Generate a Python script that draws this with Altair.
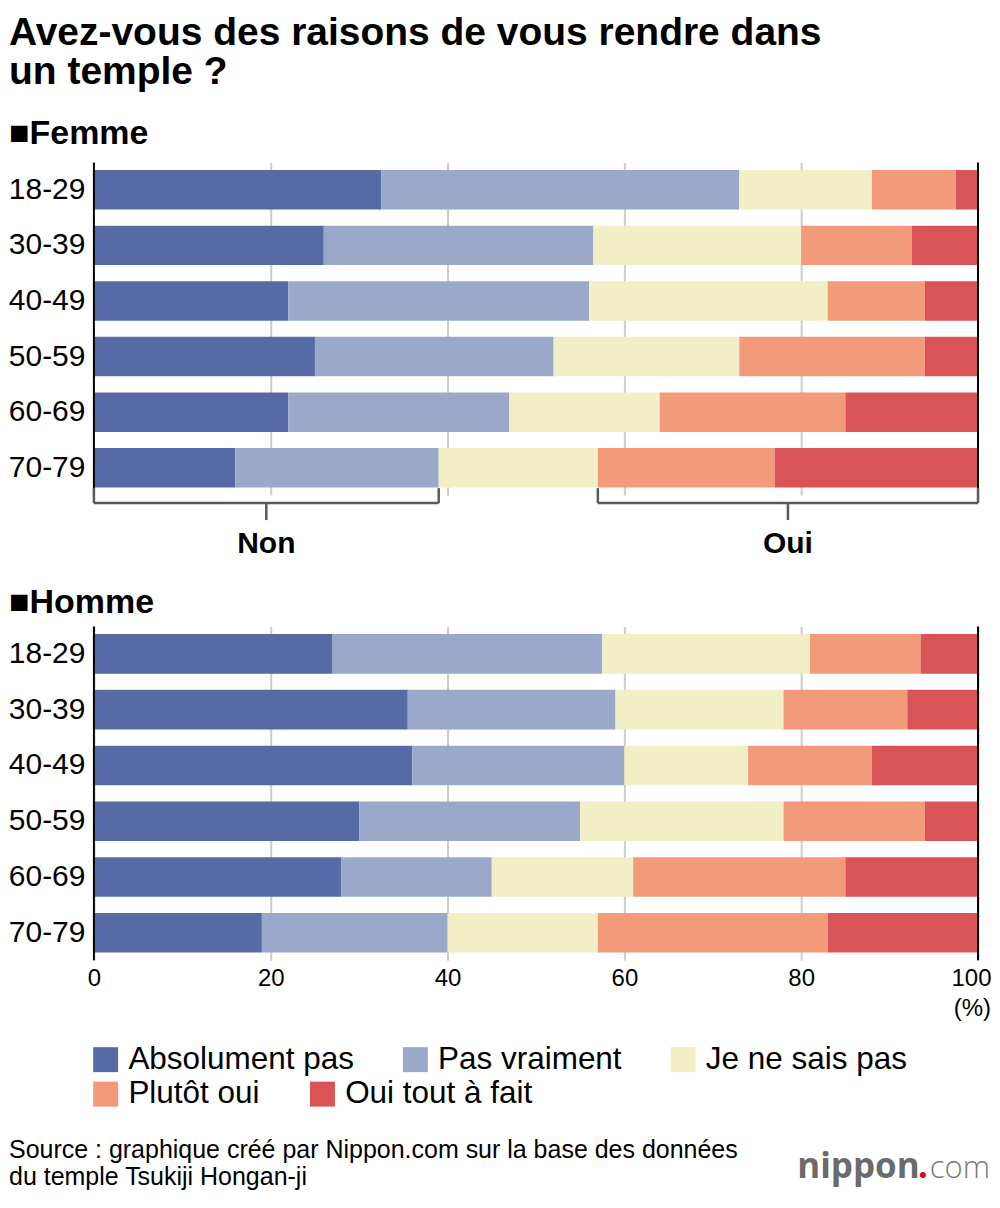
import altair as alt
import pandas as pd

FONT = "Liberation Sans"

ages = ["18-29", "30-39", "40-49", "50-59", "60-69", "70-79"]
answers = ["Absolument pas", "Pas vraiment", "Je ne sais pas", "Plutôt oui", "Oui tout à fait"]
colors = ["#566ba6", "#9aa8ca", "#f2efc6", "#f29a7a", "#d95456"]

# Femme (%)
femme_absolument_pas = [32.5, 26.0, 22.0, 25.0, 22.0, 16.0]
femme_pas_vraiment = [40.5, 30.5, 34.0, 27.0, 25.0, 23.0]
femme_ne_sais_pas = [15.0, 23.5, 27.0, 21.0, 17.0, 18.0]
femme_plutot_oui = [9.5, 12.5, 11.0, 21.0, 21.0, 20.0]
femme_tout_a_fait = [2.5, 7.5, 6.0, 6.0, 15.0, 23.0]

# Homme (%)
homme_absolument_pas = [27.0, 35.5, 36.0, 30.0, 28.0, 19.0]
homme_pas_vraiment = [30.5, 23.5, 24.0, 25.0, 17.0, 21.0]
homme_ne_sais_pas = [23.5, 19.0, 14.0, 23.0, 16.0, 17.0]
homme_plutot_oui = [12.5, 14.0, 14.0, 16.0, 24.0, 26.0]
homme_tout_a_fait = [6.5, 8.0, 12.0, 6.0, 15.0, 17.0]

x_ticks = [0, 20, 40, 60, 80, 100]
grid_ticks = [20, 40, 60, 80]
edges = [0, 100]
bracket_labels = ["Non", "Oui"]

title_lines = ["Avez-vous des raisons de vous rendre dans", "un temple ?"]
source_lines = ["Source : graphique créé par Nippon.com sur la base des données",
                "du temple Tsukiji Hongan-ji"]


def long_table(series):
    rows = []
    for k, vals in enumerate(series):
        for age, v in zip(ages, vals):
            rows.append({"age": age, "reponse": answers[k], "rang": k, "valeur": v})
    return pd.DataFrame(rows)


femme_df = long_table([femme_absolument_pas, femme_pas_vraiment, femme_ne_sais_pas,
                       femme_plutot_oui, femme_tout_a_fait])
homme_df = long_table([homme_absolument_pas, homme_pas_vraiment, homme_ne_sais_pas,
                       homme_plutot_oui, homme_tout_a_fait])

W = 885
H = 333
HH = 334
xscale = alt.Scale(domain=[0, 100], nice=False, zero=True)
yscale = alt.Scale(paddingInner=0.29, paddingOuter=0.137, round=False)


def make_legend(values, legend_y, col_pad):
    return alt.Legend(title=None, orient="none", legendX=-4, legendY=legend_y,
                      direction="horizontal", values=values,
                      symbolType="square", symbolSize=625, symbolStrokeWidth=0,
                      symbolOpacity=1, labelFontSize=31.5, labelOffset=7,
                      columnPadding=col_pad, labelLimit=500,
                      labelColor="black", labelFont=FONT)


# legend first row (first three answers) under the femme panel scale,
# second row (last two) under the homme panel scale
legend_row1 = make_legend(answers[:3], 882, 45)
legend_row2 = make_legend(answers[3:], 452, 47)

yaxis = alt.Axis(title=None, ticks=False, domain=False, grid=False,
                 labelFontSize=30, labelPadding=9, labelColor="black", labelFont=FONT)

femme_axis = alt.Axis(title=None, values=grid_ticks, labels=False, ticks=False,
                      domain=False, grid=True, gridColor="#cccccc", gridWidth=2)
homme_axis = alt.Axis(title=None, values=x_ticks, labels=True, ticks=False,
                      domain=False, grid=True, gridColor="#cccccc", gridWidth=2,
                      labelFontSize=24, labelPadding=6, labelFlush=False,
                      labelOffset={"condition": {"test": "datum.value == 100", "value": -7},
                                   "value": 0},
                      labelColor="black", labelFont=FONT)


def bars(df, axis, legend):
    return alt.Chart(df).mark_bar().encode(
        x=alt.X("valeur:Q", stack="zero", scale=xscale, axis=axis),
        y=alt.Y("age:N", sort=ages, scale=yscale, axis=yaxis),
        color=alt.Color("reponse:N", scale=alt.Scale(domain=answers, range=colors),
                        sort=answers, legend=legend),
        order=alt.Order("rang:Q"),
    )


edge_df = pd.DataFrame({"pos": edges})


def edge_rules(axis):
    return alt.Chart(edge_df).mark_rule(color="black", strokeWidth=2).encode(
        x=alt.X("pos:Q", scale=xscale, axis=axis))


# brackets "Non" / "Oui" derived from the last femme row
last = len(ages) - 1
non_end = femme_absolument_pas[last] + femme_pas_vraiment[last]
oui_start = non_end + femme_ne_sais_pas[last]
br_df = pd.DataFrame({
    "label": bracket_labels,
    "start": [0, oui_start],
    "end": [non_end, 100],
})
br_df["mid"] = (br_df["start"] + br_df["end"]) / 2
ends_df = pd.DataFrame({"pos": [0, non_end, oui_start, 100]})

BR = "#5a5a5a"
br_h = alt.Chart(br_df).mark_rule(color=BR, strokeWidth=2.5).encode(
    x=alt.X("start:Q", scale=xscale, axis=femme_axis), x2="end:Q", y=alt.value(H + 8))
br_ends = alt.Chart(ends_df).mark_rule(color=BR, strokeWidth=2.5).encode(
    x=alt.X("pos:Q", scale=xscale, axis=femme_axis), y=alt.value(H - 7), y2=alt.value(H + 8))
br_mid = alt.Chart(br_df).mark_rule(color=BR, strokeWidth=2.5).encode(
    x=alt.X("mid:Q", scale=xscale, axis=femme_axis), y=alt.value(H + 8), y2=alt.value(H + 25))
br_text = alt.Chart(br_df).mark_text(font=FONT, fontSize=30, fontWeight="bold",
                                     color="black", baseline="middle").encode(
    x=alt.X("mid:Q", scale=xscale, axis=femme_axis), y=alt.value(H + 49), text="label:N")

femme = alt.layer(bars(femme_df, femme_axis, legend_row1), edge_rules(femme_axis),
                  br_h, br_ends, br_mid, br_text).properties(
    width=W, height=H,
    title=alt.TitleParams(text=title_lines, subtitle="■Femme", anchor="start", frame="group",
                          dx=-85, fontSize=39, fontWeight="bold", lineHeight=39,
                          font=FONT, color="black", subtitleFont=FONT,
                          subtitleFontSize=34, subtitleFontWeight="bold",
                          subtitleColor="black", subtitlePadding=26, offset=10),
)

pct = alt.Chart().mark_text(text="(%)", font=FONT, fontSize=24, align="right",
                            baseline="alphabetic", color="black").encode(
    x=alt.value(898), y=alt.value(390))
src1 = alt.Chart().mark_text(text=source_lines[0], font=FONT, fontSize=25, align="left",
                             baseline="alphabetic", color="black").encode(
    x=alt.value(-85), y=alt.value(532))
src2 = alt.Chart().mark_text(text=source_lines[1], font=FONT, fontSize=25, align="left",
                             baseline="alphabetic", color="black").encode(
    x=alt.value(-85), y=alt.value(559))
logo1 = alt.Chart().mark_text(text="nippon", font="Open Sans", fontSize=35, fontWeight="bold",
                              align="left", baseline="alphabetic", color="#6b6b6b").encode(
    x=alt.value(704), y=alt.value(552))
logo2 = alt.Chart().mark_text(text=".", font="Open Sans", fontSize=35, fontWeight="bold",
                              align="left", baseline="alphabetic", color="#e60012").encode(
    x=alt.value(825), y=alt.value(552))
logo3 = alt.Chart().mark_text(text="com", font="Open Sans", fontSize=31, fontWeight=300,
                              align="right", baseline="alphabetic", color="#7a7a7a").encode(
    x=alt.value(897), y=alt.value(552))

homme = alt.layer(bars(homme_df, homme_axis, legend_row2), edge_rules(homme_axis), pct,
                  src1, src2, logo1, logo2, logo3).properties(
    width=W, height=HH,
    title=alt.TitleParams(text="■Homme", anchor="start", frame="group", dx=-85,
                          fontSize=34, fontWeight="bold", font=FONT, color="black",
                          offset=5),
)

chart = alt.vconcat(femme, homme, spacing=131.5, bounds="flush").resolve_scale(
    color="independent"
).properties(
    padding={"left": 0, "top": 5, "right": 0, "bottom": 0}
).configure(font=FONT, background="white").configure_view(stroke=None)

chart.save("out.html", embed_options={"renderer": "svg", "actions": False})
